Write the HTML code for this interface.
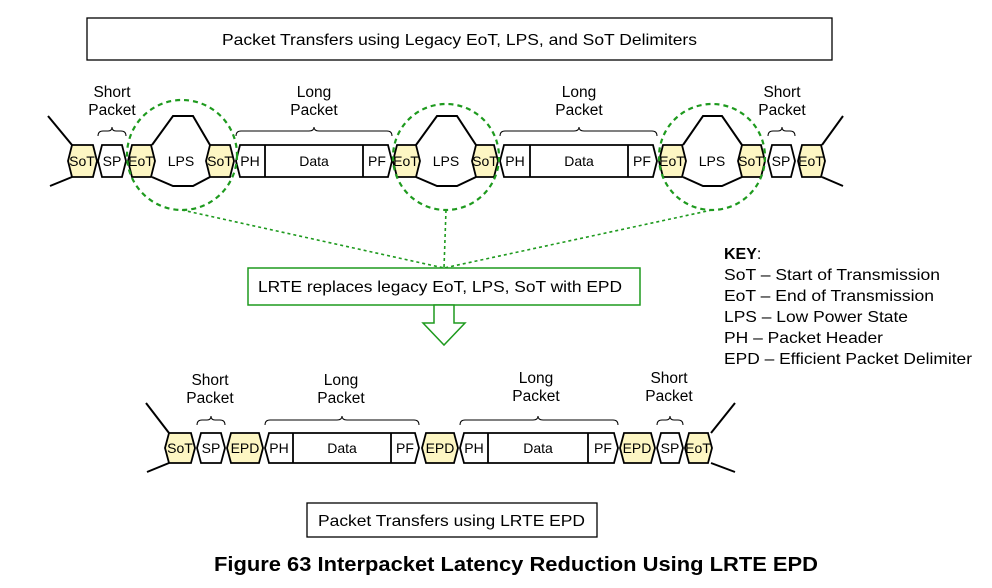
<!DOCTYPE html>
<html><head><meta charset="utf-8"><style>
html,body{margin:0;padding:0;background:#fff;}
svg{display:block;font-family:"Liberation Sans",Arial,sans-serif;}
</style></head><body>
<svg width="992" height="588" viewBox="0 0 992 588" xmlns="http://www.w3.org/2000/svg">
<g fill="none" stroke="#000" stroke-width="1.3">
<rect x="87" y="18" width="745" height="42"/>
<rect x="307" y="503" width="290" height="34"/>
</g>
<text x="222" y="45" font-size="16" textLength="475" lengthAdjust="spacingAndGlyphs">Packet Transfers using Legacy EoT, LPS, and SoT Delimiters</text>
<text x="318" y="526" font-size="16" textLength="267" lengthAdjust="spacingAndGlyphs">Packet Transfers using LRTE EPD</text>
<text x="214" y="571" font-size="20" font-weight="bold" textLength="604" lengthAdjust="spacingAndGlyphs">Figure 63 Interpacket Latency Reduction Using LRTE EPD</text>

<!-- TOP ROW -->
<g stroke="#000" stroke-width="2" fill="none">
<polyline points="48,116 72,145"/><polyline points="72,177 50,186"/>
<polyline points="822,145 843,116"/><polyline points="822,177 843,186"/>
<polyline points="152,145 173,116 193,116 210,145"/><polyline points="152,177 173,186 193,186 210,177"/>
<polyline points="416,145 437,116 457,116 476,145"/><polyline points="416,177 437,186 457,186 476,177"/>
<polyline points="683,145 703,116 722,116 742,145"/><polyline points="683,177 703,186 722,186 742,177"/>
</g>
<g stroke="#000" stroke-width="1.8">
<polygon fill="#fdf6c3" points="68,161 72,145 93,145 97,161 93,177 72,177"/>
<polygon fill="#fff" points="98,161 102,145 122,145 126,161 122,177 102,177"/>
<polygon fill="#fdf6c3" points="128,161 132,145 151,145 155,161 151,177 132,177"/>
<polygon fill="#fdf6c3" points="206,161 210,145 230,145 234,161 230,177 210,177"/>
<polygon fill="#fff" points="236,161 240,145 388,145 392,161 388,177 240,177"/>
<line x1="265" y1="145" x2="265" y2="177"/><line x1="363" y1="145" x2="363" y2="177"/>
<polygon fill="#fdf6c3" points="393,161 397,145 416,145 420,161 416,177 397,177"/>
<polygon fill="#fdf6c3" points="472,161 476,145 494,145 498,161 494,177 476,177"/>
<polygon fill="#fff" points="500,161 504,145 653,145 657,161 653,177 504,177"/>
<line x1="530" y1="145" x2="530" y2="177"/><line x1="628" y1="145" x2="628" y2="177"/>
<polygon fill="#fdf6c3" points="659,161 663,145 682,145 686,161 682,177 663,177"/>
<polygon fill="#fdf6c3" points="738,161 742,145 761,145 765,161 761,177 742,177"/>
<polygon fill="#fff" points="768,161 772,145 791,145 795,161 791,177 772,177"/>
<polygon fill="#fdf6c3" points="798,161 802,145 821,145 825,161 821,177 802,177"/>
</g>
<g font-size="14" text-anchor="middle">
<text x="82" y="166">SoT</text><text x="112" y="166">SP</text><text x="141" y="166">EoT</text>
<text x="181" y="166">LPS</text><text x="220" y="166">SoT</text><text x="250" y="166">PH</text>
<text x="314" y="166">Data</text><text x="377" y="166">PF</text><text x="406" y="166">EoT</text>
<text x="446" y="166">LPS</text><text x="485" y="166">SoT</text><text x="515" y="166">PH</text>
<text x="579" y="166">Data</text><text x="642" y="166">PF</text><text x="672" y="166">EoT</text>
<text x="712" y="166">LPS</text><text x="751" y="166">SoT</text><text x="781" y="166">SP</text><text x="811" y="166">EoT</text>
</g>
<g font-size="15.5" text-anchor="middle">
<text x="112" y="97">Short</text><text x="112" y="115">Packet</text>
<text x="314" y="97">Long</text><text x="314" y="115">Packet</text>
<text x="579" y="97">Long</text><text x="579" y="115">Packet</text>
<text x="782" y="97">Short</text><text x="782" y="115">Packet</text>
</g>
<g stroke="#000" stroke-width="1" fill="none">
<path d="M98,136 Q98,131 103,131 L108,131 Q112,131 112,127 Q112,131 116,131 L121,131 Q126,131 126,136"/>
<path d="M236,136 Q236,131 241,131 L309,131 Q314,131 314,127 Q314,131 319,131 L387,131 Q392,131 392,136"/>
<path d="M500,136 Q500,131 505,131 L574,131 Q579,131 579,127 Q579,131 584,131 L652,131 Q657,131 657,136"/>
<path d="M768,136 Q768,131 773,131 L778,131 Q782,131 782,127 Q782,131 786,131 L790,131 Q795,131 795,136"/>
</g>
<!-- circles -->
<g stroke="#1e9a1e" stroke-width="2.2" fill="none" stroke-dasharray="5,4">
<circle cx="182" cy="155" r="55"/>
<circle cx="446" cy="157" r="53"/>
<circle cx="712" cy="157" r="53"/>
</g>
<g stroke="#1e9a1e" stroke-width="1.6" fill="none" stroke-dasharray="3,3">
<line x1="182" y1="210" x2="444" y2="268"/>
<line x1="446" y1="210" x2="444" y2="268"/>
<line x1="712" y1="210" x2="444" y2="268"/>
</g>
<rect x="248" y="268" width="392" height="37" fill="#fff" stroke="#1e9a1e" stroke-width="1.5"/>
<text x="258" y="292" font-size="16" textLength="364" lengthAdjust="spacingAndGlyphs">LRTE replaces legacy EoT, LPS, SoT with EPD</text>
<polygon points="434,305 454,305 454,323 465,323 444,345 423,323 434,323" fill="#fff" stroke="#1e9a1e" stroke-width="1.5"/>

<!-- KEY -->
<g font-size="16">
<text x="724" y="259"><tspan font-weight="bold">KEY</tspan>:</text>
<text x="724" y="280" textLength="216" lengthAdjust="spacingAndGlyphs">SoT – Start of Transmission</text>
<text x="724" y="301" textLength="210" lengthAdjust="spacingAndGlyphs">EoT – End of Transmission</text>
<text x="724" y="322" textLength="184" lengthAdjust="spacingAndGlyphs">LPS – Low Power State</text>
<text x="724" y="343" textLength="159" lengthAdjust="spacingAndGlyphs">PH – Packet Header</text>
<text x="724" y="364" textLength="248" lengthAdjust="spacingAndGlyphs">EPD – Efficient Packet Delimiter</text>
</g>

<!-- BOTTOM ROW -->
<g stroke="#000" stroke-width="2" fill="none">
<polyline points="146,403 169,433"/><polyline points="169,463 147,472"/>
<polyline points="711,433 735,403"/><polyline points="711,463 735,472"/>
</g>
<g stroke="#000" stroke-width="1.8">
<polygon fill="#fdf6c3" points="165,448 169,433 191,433 195,448 191,463 169,463"/>
<polygon fill="#fff" points="197,448 201,433 221,433 225,448 221,463 201,463"/>
<polygon fill="#fdf6c3" points="227,448 231,433 259,433 263,448 259,463 231,463"/>
<polygon fill="#fff" points="265,448 269,433 415,433 419,448 415,463 269,463"/>
<line x1="293" y1="433" x2="293" y2="463"/><line x1="391" y1="433" x2="391" y2="463"/>
<polygon fill="#fdf6c3" points="422,448 426,433 454,433 458,448 454,463 426,463"/>
<polygon fill="#fff" points="460,448 464,433 614,433 618,448 614,463 464,463"/>
<line x1="488" y1="433" x2="488" y2="463"/><line x1="588" y1="433" x2="588" y2="463"/>
<polygon fill="#fdf6c3" points="620,448 624,433 651,433 655,448 651,463 624,463"/>
<polygon fill="#fff" points="657,448 661,433 679,433 683,448 679,463 661,463"/>
<polygon fill="#fdf6c3" points="685,448 689,433 708,433 712,448 708,463 689,463"/>
</g>
<g font-size="14" text-anchor="middle">
<text x="180" y="453">SoT</text><text x="211" y="453">SP</text><text x="245" y="453">EPD</text>
<text x="279" y="453">PH</text><text x="342" y="453">Data</text><text x="405" y="453">PF</text>
<text x="440" y="453">EPD</text><text x="474" y="453">PH</text><text x="538" y="453">Data</text>
<text x="603" y="453">PF</text><text x="637" y="453">EPD</text><text x="670" y="453">SP</text><text x="698" y="453">EoT</text>
</g>
<g font-size="15.5" text-anchor="middle">
<text x="210" y="385">Short</text><text x="210" y="403">Packet</text>
<text x="341" y="385">Long</text><text x="341" y="403">Packet</text>
<text x="536" y="383">Long</text><text x="536" y="401">Packet</text>
<text x="669" y="383">Short</text><text x="669" y="401">Packet</text>
</g>
<g stroke="#000" stroke-width="1" fill="none">
<path d="M197,425 Q197,420 202,420 L207,420 Q211,420 211,416 Q211,420 215,420 L220,420 Q225,420 225,425"/>
<path d="M265,425 Q265,420 270,420 L337,420 Q342,420 342,416 Q342,420 347,420 L414,420 Q419,420 419,425"/>
<path d="M460,425 Q460,420 465,420 L533,420 Q538,420 538,416 Q538,420 543,420 L613,420 Q618,420 618,425"/>
<path d="M657,425 Q657,420 662,420 L666,420 Q670,420 670,416 Q670,420 674,420 L678,420 Q683,420 683,425"/>
</g>
</svg>
</body></html>
